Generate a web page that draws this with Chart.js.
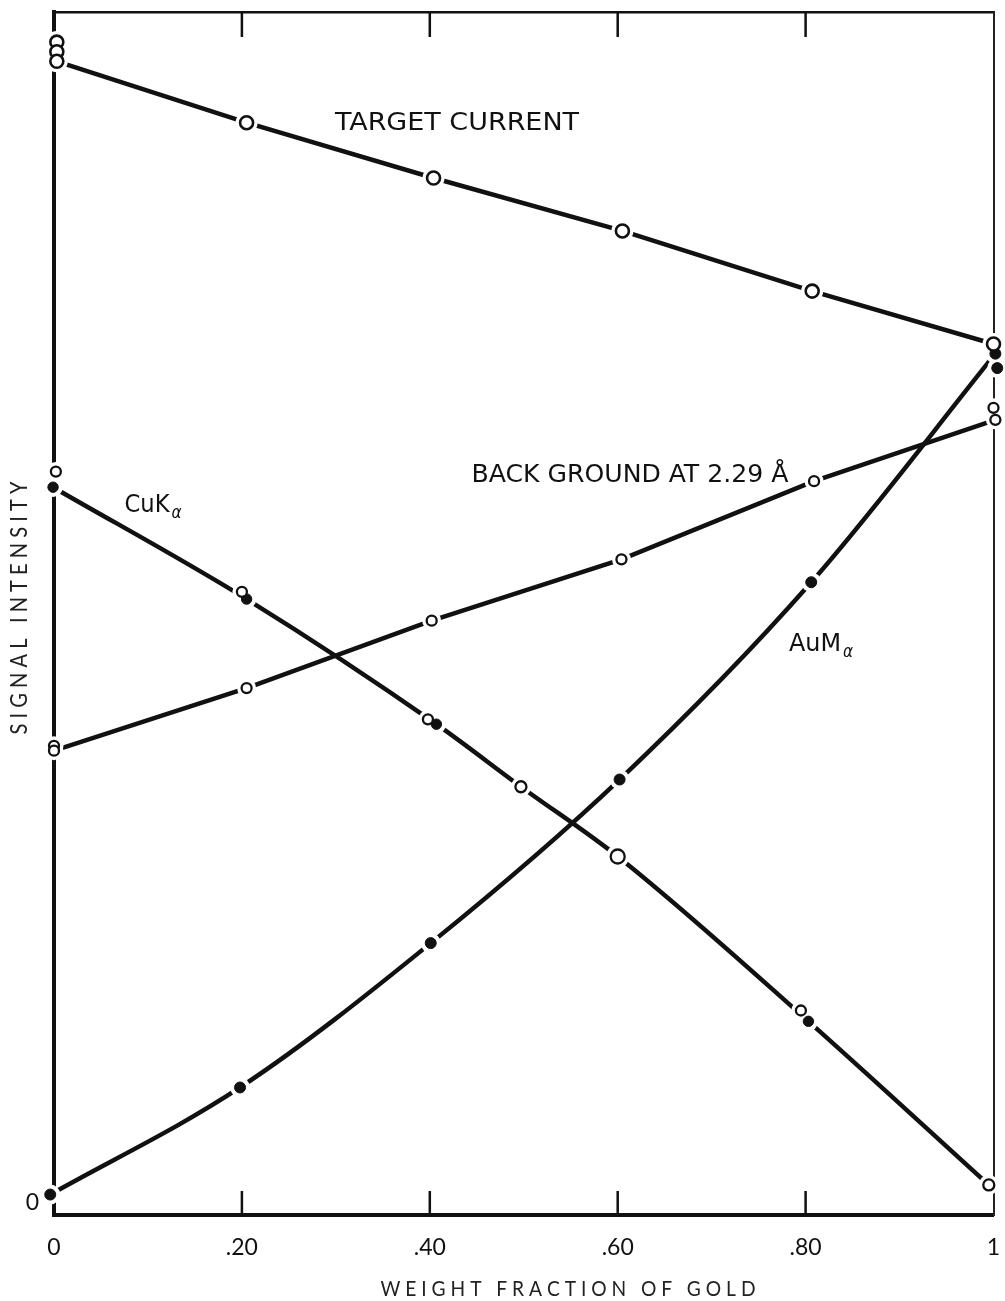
<!DOCTYPE html>
<html>
<head>
<meta charset="utf-8">
<script src="https://cdn.jsdelivr.net/npm/chart.js@4.4.1/dist/chart.umd.min.js"></script>
<style>
  html, body { margin: 0; padding: 0; background: #fff; }
  #wrap { width: 1005px; height: 1301px; }
</style>
</head>
<body>
<div id="wrap"><canvas id="chart" width="1005" height="1301"></canvas></div>
<script>
// x: weight fraction of gold, y: signal intensity (arbitrary units, 0-100)
const xTicks = [0, 0.2, 0.4, 0.6, 0.8, 1];
const xTickLabels = ['0', '.20', '.40', '.60', '.80', '1'];

// target current (open circles); repeat readings at the ends
const targetCurrent = [
  { x: 0.003, y: 95.9 }, { x: 0.205, y: 90.8 }, { x: 0.404, y: 86.2 },
  { x: 0.605, y: 81.8 }, { x: 0.807, y: 76.8 }, { x: 1.0, y: 72.4 }
];
const targetRepeats = [{ x: 0.003, y: 97.5 }, { x: 0.003, y: 96.7 }];

// background at 2.29 A (small open circles)
const background = [
  { x: 0.0, y: 38.6 }, { x: 0.205, y: 43.8 }, { x: 0.402, y: 49.4 },
  { x: 0.604, y: 54.5 }, { x: 0.809, y: 61.0 }, { x: 1.002, y: 66.1 }
];
const backgroundRepeats = [{ x: 0.0, y: 39.0 }, { x: 1.0, y: 67.1 }];

// Cu K-alpha: open and filled readings
const cuOpen = [
  { x: 0.002, y: 61.8 }, { x: 0.2, y: 51.8 }, { x: 0.398, y: 41.2 }, { x: 0.497, y: 35.6 },
  { x: 0.6, y: 29.8 }, { x: 0.795, y: 17.0 }, { x: 0.995, y: 2.5 }
];
const cuFilled = [
  { x: -0.001, y: 60.5 }, { x: 0.205, y: 51.2 }, { x: 0.407, y: 40.8 }, { x: 0.803, y: 16.1 }
];

// Au M-alpha (filled dots)
const auFilled = [
  { x: -0.004, y: 1.7 }, { x: 0.198, y: 10.6 }, { x: 0.401, y: 22.6 },
  { x: 0.602, y: 36.2 }, { x: 0.806, y: 52.6 }, { x: 1.002, y: 71.6 }
];
const auRepeats = [{ x: 1.004, y: 70.4 }];

const INK = '#111';

// Cu curve runs through the filled reading where both exist
const cuCurve = cuOpen.map(p => cuFilled.find(f => Math.abs(f.x - p.x) < 0.02) || p)
  .sort((a, b) => a.x - b.x);

function lineSet(data, smooth) {
  return {
    data, order: 2, showLine: true, clip: false, pointRadius: 0,
    borderColor: INK, borderWidth: 4.5, borderCapStyle: 'round',
    tension: smooth ? 0.4 : 0, cubicInterpolationMode: smooth ? 'monotone' : 'default'
  };
}
function markerSet(data, radius, filled, bw) {
  return {
    data, order: 0, showLine: false, clip: false, pointStyle: 'circle',
    pointRadius: radius, pointBorderWidth: bw,
    pointBorderColor: INK, pointBackgroundColor: filled ? INK : '#fff'
  };
}
// white disc under each marker so lines and axes break around it
function haloSet(data, radius) {
  const r = Array.isArray(radius) ? radius.map(v => v + 4.5) : radius + 4.5;
  return {
    data, order: 1, showLine: false, clip: false, pointStyle: 'circle',
    pointRadius: r, pointBorderWidth: 0, pointBackgroundColor: '#fff'
  };
}

const cuOpenRadius = [5, 5, 5, 5.5, 7, 5, 5.5];
const markers = [
  [targetCurrent, 6.5, false, 2.6], [targetRepeats, 6.5, false, 2.6],
  [background, 5, false, 2.3], [backgroundRepeats, 5, false, 2.3],
  [cuOpen, cuOpenRadius, false, 2.3], [cuFilled, 5.2, true, 1],
  [auFilled, 5.5, true, 1], [auRepeats, 5.5, true, 1]
];

const datasets = [
  ...markers.map(m => markerSet(m[0], m[1], m[2], m[3])),
  ...markers.map(m => haloSet(m[0], m[1])),
  lineSet(targetCurrent, false), lineSet(background, false),
  lineSet(cuCurve, true), lineSet(auFilled, true)
];

// inward tick marks on the top and bottom frame
const frameTicks = {
  id: 'frameTicks',
  beforeDatasetsDraw(chart) {
    const { ctx, chartArea, scales: { x } } = chart;
    ctx.save();
    ctx.strokeStyle = INK;
    ctx.lineWidth = 2.5;
    xTicks.slice(1, -1).forEach(v => {
      const px = x.getPixelForValue(v);
      ctx.beginPath();
      ctx.moveTo(px, chartArea.top);
      ctx.lineTo(px, chartArea.top + 25);
      ctx.moveTo(px, chartArea.bottom);
      ctx.lineTo(px, chartArea.bottom - 24);
      ctx.stroke();
    });
    ctx.restore();
  }
};

function fitText(ctx, text, cx, baseY, width, font) {
  ctx.save();
  ctx.font = font;
  const w = ctx.measureText(text).width;
  ctx.translate(cx, baseY);
  ctx.scale(width / w, 1);
  ctx.textAlign = 'center';
  ctx.textBaseline = 'alphabetic';
  ctx.fillText(text, 0, 0);
  ctx.restore();
}

const NARROW = "'DejaVu Sans Condensed', 'Liberation Sans Narrow', 'DejaVu Sans', sans-serif";
const notes = [
  { text: 'TARGET CURRENT', x: 0.429, y: 90.9, w: 244 },
  { text: 'BACK GROUND AT 2.29 Å', x: 0.613, y: 61.7, w: 317 },
  { text: 'CuK', sub: 'α', x: 0.099, y: 59.2, w: 45 },
  { text: 'AuM', sub: 'α', x: 0.81, y: 47.6, w: 52 }
];

const labels = {
  id: 'labels',
  afterDatasetsDraw(chart) {
    const { ctx, scales: { x, y } } = chart;
    ctx.save();
    ctx.fillStyle = INK;
    notes.forEach(n => {
      const cx = x.getPixelForValue(n.x);
      const cy = y.getPixelForValue(n.y);
      fitText(ctx, n.text, cx, cy + 9, n.w, '24px ' + NARROW);
      if (n.sub) {
        ctx.font = 'italic 17px ' + NARROW;
        ctx.textAlign = 'left';
        ctx.textBaseline = 'alphabetic';
        ctx.fillText(n.sub, cx + n.w / 2 + 2, cy + 15);
      }
    });
    ctx.fillStyle = '#222';
    // axis titles
    fitText(ctx, 'W E I G H T   F R A C T I O N   O F   G O L D', 568, 1296, 375, '21px Lato, sans-serif');
    ctx.save();
    ctx.translate(27, 608);
    ctx.rotate(-Math.PI / 2);
    fitText(ctx, 'S I G N A L   I N T E N S I T Y', 0, 0, 253, '23px Lato, sans-serif');
    ctx.restore();
    ctx.restore();
  }
};

function noPad(s) {
  s.paddingLeft = 0; s.paddingRight = 0; s.paddingTop = 0; s.paddingBottom = 0;
}

new Chart(document.getElementById('chart'), {
  type: 'scatter',
  data: { datasets },
  plugins: [frameTicks, labels],
  options: {
    responsive: false,
    animation: false,
    events: [],
    layout: { padding: { top: 12, right: 5, bottom: 0, left: 0 } },
    plugins: { legend: { display: false }, tooltip: { enabled: false } },
    scales: {
      x: {
        type: 'linear', position: 'bottom', min: 0, max: 1,
        afterBuildTicks: s => { s.ticks = xTicks.map(v => ({ value: v })); },
        ticks: {
          callback: (v, i) => xTickLabels[i],
          padding: 19, color: INK, maxRotation: 0, autoSkip: false,
          font: { family: 'Lato', size: 23 }
        },
        grid: { display: false, drawTicks: false },
        border: { display: true, width: 4, color: INK },
        afterFit: s => { s.height = 86; noPad(s); }
      },
      x2: {
        type: 'linear', position: 'top', min: 0, max: 1,
        ticks: { display: false },
        grid: { display: false, drawTicks: false },
        border: { display: true, width: 2.5, color: INK },
        afterFit: s => { s.height = 0; noPad(s); }
      },
      y: {
        type: 'linear', position: 'left', min: 0, max: 100,
        afterBuildTicks: s => { s.ticks = [{ value: 0 }]; },
        ticks: {
          callback: v => (v === 0 ? '0' : ''),
          padding: 15, labelOffset: -12, color: INK,
          font: { family: 'Lato', size: 23 }
        },
        grid: { display: false, drawTicks: false },
        border: { display: true, width: 4, color: INK },
        afterFit: s => { s.width = 54; noPad(s); }
      },
      y2: {
        type: 'linear', position: 'right', min: 0, max: 100,
        ticks: { display: false },
        grid: { display: false, drawTicks: false },
        border: { display: true, width: 2, color: '#222' },
        afterFit: s => { s.width = 0; noPad(s); }
      }
    }
  }
});
</script>
</body>
</html>
